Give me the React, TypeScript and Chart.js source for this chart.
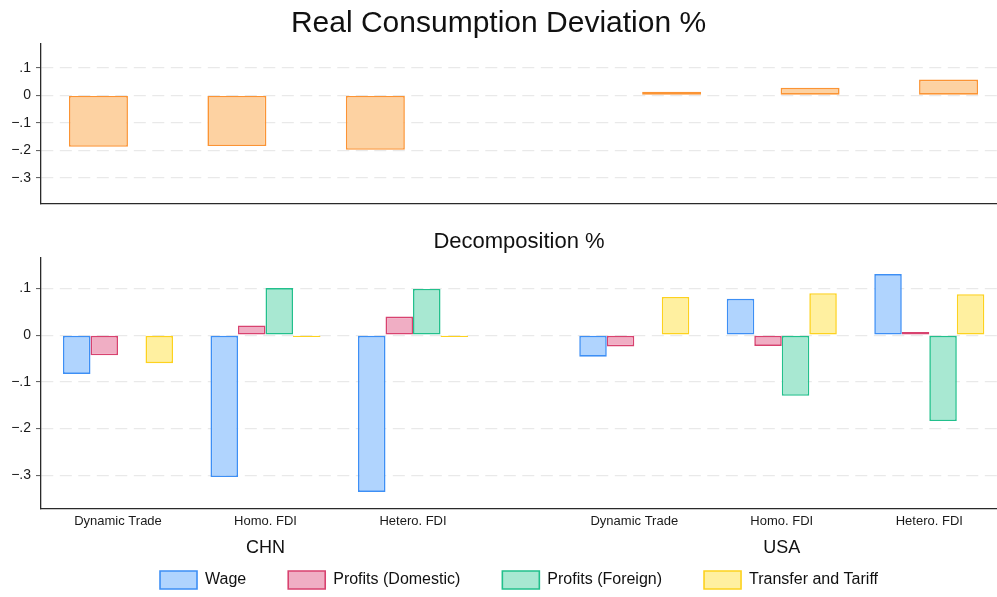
import React, { useEffect, useRef } from 'react';
import { Chart, registerables } from 'chart.js';

Chart.register(...registerables);

// ---------- data ----------
const groupLabels = ['Dynamic Trade', 'Homo. FDI', 'Hetero. FDI', 'Dynamic Trade', 'Homo. FDI', 'Hetero. FDI'];
const countryLabels = ['CHN', 'USA'];
const realConsumption = [-0.187, -0.184, -0.198, 0.013, 0.027, 0.057];
const wage = [-0.083, -0.304, -0.336, -0.046, 0.078, 0.131];
const profitsDomestic = [-0.043, 0.021, 0.040, -0.024, -0.023, 0.007];
const profitsForeign: (number | null)[] = [null, 0.101, 0.099, null, -0.130, -0.184];
const transferTariff = [-0.060, -0.004, -0.004, 0.082, 0.090, 0.088];
const yTickValues = [-0.3, -0.2, -0.1, 0, 0.1];
const seriesNames = ['Wage', 'Profits (Domestic)', 'Profits (Foreign)', 'Transfer and Tariff'];

// ---------- layout (slot positions on the x axis, not data) ----------
const topSlots = [0, 1, 2, 4.14, 5.14, 6.14];
const topRange = [-0.415, 6.49];
const bottomSlots = [0, 1, 2, 3.5, 4.5, 5.5];
const bottomRange = [-0.522, 5.959];
const countrySlots = [1, 4.5];

const FONT = '"Liberation Sans", Arial, Helvetica, sans-serif';
const MINUS = '\u2212';

const fmt = (v: number) => {
  const r = Math.round(v * 10) / 10;
  if (Math.abs(r) < 1e-9) return '0';
  const s = Math.abs(r).toString().replace(/^0/, '');
  return (r < 0 ? MINUS : '') + s;
};

const yAxis = (min: number, max: number) => ({
  type: 'linear',
  min,
  max,
  afterBuildTicks: (s: any) => {
    s.ticks = yTickValues.map((v) => ({ value: v }));
  },
  afterFit: (s: any) => {
    s.width = 41;
  },
  ticks: {
    callback: (v: any) => fmt(Number(v)),
    font: { family: FONT, size: 14 },
    color: '#1a1a1a',
    padding: 5,
  },
  grid: {
    color: '#e9e9e9',
    lineWidth: 1.2,
    drawTicks: true,
    tickLength: 5,
    tickColor: '#555',
    tickWidth: 1,
    tickBorderDash: [],
  },
  border: { display: true, color: '#2a2a2a', width: 1.3, dash: [12, 6.5] },
});

const withPoints = (vals: (number | null)[], slots: number[]) =>
  vals.map((v, i) => ({ x: slots[i], y: v }));

// moves the legend up so it overlaps the (label-only) country axis band
const legendUp = {
  id: 'legendUp',
  afterLayout(chart: any) {
    const l = chart.legend;
    const x2 = chart.scales.x2;
    if (!l || !x2) return;
    const h = l.height;
    l.top = x2.top;
    l.bottom = l.top + h;
  },
};

function TopChart() {
  const ref = useRef<HTMLCanvasElement>(null);
  useEffect(() => {
    const chart = new Chart(ref.current as HTMLCanvasElement, {
      type: 'bar',
      data: {
        datasets: [
          {
            label: 'Real Consumption',
            data: withPoints(realConsumption, topSlots) as any,
            backgroundColor: '#fdd2a2',
            borderColor: '#fb9434',
            borderWidth: 1.6,
            borderSkipped: false,
            categoryPercentage: 0.426,
            barPercentage: 1,
          },
        ],
      },
      options: {
        responsive: false,
        animation: false,
        maintainAspectRatio: false,
        layout: { padding: 0 },
        plugins: {
          legend: { display: false },
          tooltip: { enabled: false },
          title: {
            display: true,
            text: 'Real Consumption Deviation %',
            font: { family: FONT, size: 30, weight: 'normal' },
            color: '#111',
            padding: { top: 6, bottom: 1.2 },
          },
        },
        scales: {
          x: {
            type: 'linear',
            offset: false,
            min: topRange[0],
            max: topRange[1],
            afterBuildTicks: (s: any) => {
              s.ticks = topSlots.map((v) => ({ value: v }));
            },
            afterFit: (s: any) => {
              s.height = 8;
            },
            ticks: { display: false },
            grid: { display: false, drawTicks: false, offset: false },
            border: { display: true, color: '#2a2a2a', width: 1.3 },
          },
          y: yAxis(-0.393, 0.189) as any,
        },
      } as any,
    });
    return () => chart.destroy();
  }, []);
  return <canvas ref={ref} width={997} height={217} style={{ display: 'block', width: 997, height: 217 }} />;
}

function BottomChart() {
  const ref = useRef<HTMLCanvasElement>(null);
  useEffect(() => {
    const common = { borderWidth: 1.6, borderSkipped: false, categoryPercentage: 0.746, barPercentage: 1 };
    const chart = new Chart(ref.current as HTMLCanvasElement, {
      type: 'bar',
      data: {
        datasets: [
          { label: seriesNames[0], data: withPoints(wage, bottomSlots) as any, backgroundColor: '#b0d4fe', borderColor: '#3d8ff5', ...common },
          { label: seriesNames[1], data: withPoints(profitsDomestic, bottomSlots) as any, backgroundColor: '#f0aec4', borderColor: '#d8426f', ...common },
          { label: seriesNames[2], data: withPoints(profitsForeign, bottomSlots) as any, backgroundColor: '#a8e8d2', borderColor: '#22c08c', ...common },
          { label: seriesNames[3], data: withPoints(transferTariff, bottomSlots) as any, backgroundColor: '#fff0a0', borderColor: '#fdd21e', ...common },
        ],
      },
      plugins: [legendUp],
      options: {
        responsive: false,
        animation: false,
        maintainAspectRatio: false,
        layout: { padding: { left: 0, right: 0, top: 0, bottom: -30 } },
        plugins: {
          tooltip: { enabled: false },
          title: {
            display: true,
            text: 'Decomposition %',
            fullSize: false,
            font: { family: FONT, size: 22, weight: 'normal' },
            color: '#111',
            padding: { top: 11.8, bottom: 2.1 },
          },
          legend: {
            display: true,
            position: 'bottom',
            fullSize: false,
            labels: {
              boxWidth: 37,
              boxHeight: 18,
              padding: 42,
              color: '#111',
              font: { family: FONT, size: 16 },
            },
          },
        },
        scales: {
          x: {
            type: 'linear',
            offset: false,
            weight: 0,
            min: bottomRange[0],
            max: bottomRange[1],
            afterBuildTicks: (s: any) => {
              s.ticks = bottomSlots.map((v) => ({ value: v }));
            },
            afterFit: (s: any) => {
              s.height = 20.7;
            },
            ticks: {
              autoSkip: false,
              maxRotation: 0,
              minRotation: 0,
              padding: 5.5,
              color: '#1a1a1a',
              font: { family: FONT, size: 13 },
              callback: (_v: any, i: number) => groupLabels[i],
            },
            grid: { display: false, drawTicks: false, offset: false },
            border: { display: true, color: '#2a2a2a', width: 1.3 },
          },
          x2: {
            type: 'linear',
            offset: false,
            position: 'bottom',
            weight: 1,
            min: bottomRange[0],
            max: bottomRange[1],
            afterBuildTicks: (s: any) => {
              s.ticks = countrySlots.map((v) => ({ value: v }));
            },
            afterFit: (s: any) => {
              s.height = 28;
            },
            ticks: {
              autoSkip: false,
              maxRotation: 0,
              minRotation: 0,
              padding: 8,
              color: '#111',
              font: { family: FONT, size: 18 },
              callback: (_v: any, i: number) => countryLabels[i],
            },
            grid: { display: false, drawTicks: false, offset: false },
            border: { display: false },
          },
          y: yAxis(-0.371, 0.167) as any,
        },
      } as any,
    });
    return () => chart.destroy();
  }, []);
  return <canvas ref={ref} width={997} height={380} style={{ display: 'block', width: 997, height: 380 }} />;
}

export default function App() {
  return (
    <div style={{ position: 'absolute', left: 0, top: 0, width: 997, height: 597, background: '#fff' }}>
      <TopChart />
      <BottomChart />
    </div>
  );
}
